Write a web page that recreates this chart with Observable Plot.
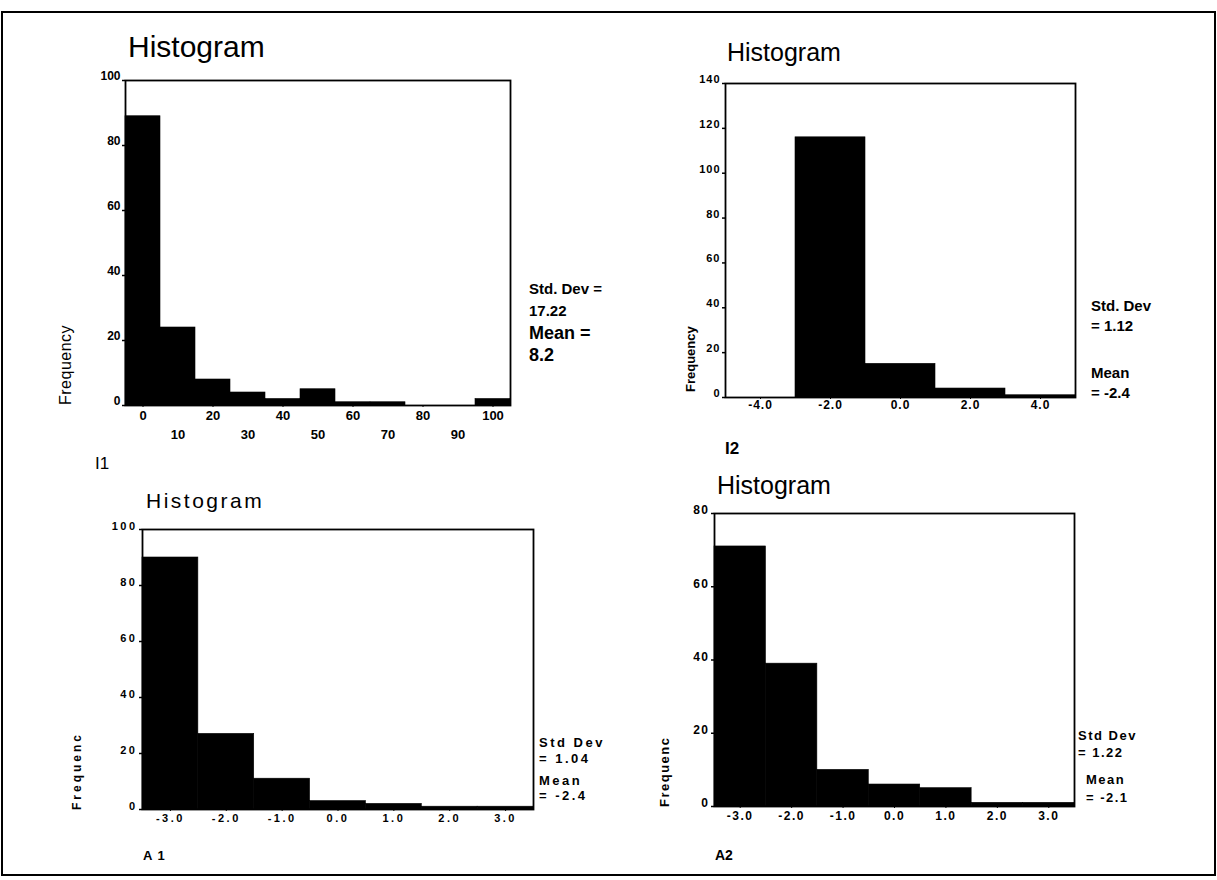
<!DOCTYPE html>
<html><head><meta charset="utf-8">
<script src="https://cdn.jsdelivr.net/npm/d3@7"></script>
<script src="https://cdn.jsdelivr.net/npm/@observablehq/plot@0.6"></script>
<style>
body{margin:0;background:#fff;}
#page{position:relative;width:1217px;height:880px;overflow:hidden;font-family:"Liberation Sans",Arial,sans-serif;color:#000;background:#fff;}
.t{position:absolute;white-space:nowrap;line-height:1;}
.rot{position:absolute;white-space:nowrap;line-height:1;transform:rotate(-90deg);transform-origin:0 0;}
#border{position:absolute;left:1px;top:11px;width:1211px;height:861px;border:2px solid #000;}
</style></head><body><div id="page"><div id="border"></div></div>
<script>
// ---- data ----
const i1Bins = [0, 10, 20, 30, 40, 50, 60, 70, 80, 90, 100];
const i1Counts = [89, 24, 8, 4, 2, 5, 1, 1, 0, 0, 2];
const i1TicksY = [0, 20, 40, 60, 80, 100];
const i1TicksXUpper = [0, 20, 40, 60, 80, 100];
const i1TicksXLower = [10, 30, 50, 70, 90];

const i2Bins = [-4, -2, 0, 2, 4];
const i2Counts = [0, 116, 15, 4, 1];
const i2TicksY = [0, 20, 40, 60, 80, 100, 120, 140];
const i2TickLabels = ["-4.0", "-2.0", "0.0", "2.0", "4.0"];

const a1Bins = [-3, -2, -1, 0, 1, 2, 3];
const a1Counts = [90, 27, 11, 3, 2, 1, 1];
const a1TicksY = [0, 20, 40, 60, 80, 100];

const a2Bins = [-3, -2, -1, 0, 1, 2, 3];
const a2Counts = [71, 39, 10, 6, 5, 1, 1];
const a2TicksY = [0, 20, 40, 60, 80];
const aTickLabels = ["-3.0", "-2.0", "-1.0", "0.0", "1.0", "2.0", "3.0"];

const FONT = '"Liberation Sans", Arial, sans-serif';
const page = document.getElementById("page");

function panel(o) {
  const [fx0, fy0, fx1, fy1] = o.frame;
  const mL = 60, mR = 14, mT = 14, mB = 50;
  const bw = o.binWidth;
  const data = o.bins.map((b, i) => ({x1: b - bw / 2, x2: b + bw / 2, y: o.counts[i]}));
  const chart = Plot.plot({
    width: mL + (fx1 - fx0) + mR,
    height: mT + (fy1 - fy0) + mB,
    marginLeft: mL, marginRight: mR, marginTop: mT, marginBottom: mB,
    x: {domain: [o.bins[0] - bw / 2, o.bins[o.bins.length - 1] + bw / 2], label: null},
    y: {domain: [0, o.yMax], label: null},
    style: {fontFamily: FONT, fontWeight: "bold", background: "transparent", overflow: "visible", letterSpacing: o.ls || "0px"},
    marks: [
      Plot.rectY(data, {x1: "x1", x2: "x2", y: "y", fill: "black", stroke: "black", strokeWidth: 0.6}),
      Plot.frame({stroke: "black", strokeWidth: 1.8}),
      Plot.axisY(o.yTicks, {tickSize: 3, tickFormat: () => "", label: null, strokeWidth: 1.5}),
      Plot.axisY(o.yTicks, {tickSize: 0, tickPadding: o.yPad || 5, dy: o.yDy || -4, fontSize: o.yFont || 12, label: null}),
      ...o.xAxes
    ]
  });
  chart.style.position = "absolute";
  chart.style.left = (fx0 - mL) + "px";
  chart.style.top = (fy0 - mT) + "px";
  page.appendChild(chart);
}

function txt(s, x, cy, size, extra) {
  const d = document.createElement("div");
  d.className = "t";
  d.textContent = s;
  d.style.left = x + "px";
  d.style.top = (cy - 0.49 * size) + "px";
  d.style.fontSize = size + "px";
  Object.assign(d.style, extra || {});
  page.appendChild(d);
}
function rot(s, cx, bottom, size, extra) {
  const d = document.createElement("div");
  d.className = "rot";
  d.textContent = s;
  d.style.left = (cx - 0.49 * size) + "px";
  d.style.top = bottom + "px";
  d.style.fontSize = size + "px";
  Object.assign(d.style, extra || {});
  page.appendChild(d);
}

// ---- panel I1 ----
panel({
  bins: i1Bins, counts: i1Counts, binWidth: 10, yMax: 100, yTicks: i1TicksY,
  frame: [125, 80, 510, 405], yFont: 12,
  xAxes: [
    Plot.axisX(i1TicksXUpper, {tickSize: 2, tickPadding: 3, fontSize: 13, label: null}),
    Plot.axisX(i1TicksXLower, {tickSize: 0, tickPadding: 24, fontSize: 13, label: null})
  ]
});
// ---- panel I2 ----
panel({
  bins: i2Bins, counts: i2Counts, binWidth: 2, yMax: 140, yTicks: i2TicksY,
  frame: [725, 83, 1075, 397], yFont: 11,
  xAxes: [
    Plot.axisX(i2Bins, {tickSize: 2, tickPadding: 1, fontSize: 12, label: null,
      tickFormat: d => i2TickLabels[i2Bins.indexOf(d)]})
  ],
  ls: "1px"
});
// ---- panel A1 ----
panel({
  bins: a1Bins, counts: a1Counts, binWidth: 1, yMax: 100, yTicks: a1TicksY,
  frame: [142, 529, 533, 809], yFont: 11, yDy: -3,
  xAxes: [
    Plot.axisX(a1Bins, {tickSize: 2, tickPadding: 3, fontSize: 11, label: null,
      tickFormat: d => aTickLabels[a1Bins.indexOf(d)]})
  ],
  ls: "2.5px"
});
// ---- panel A2 ----
panel({
  bins: a2Bins, counts: a2Counts, binWidth: 1, yMax: 80, yTicks: a2TicksY,
  frame: [714, 513, 1074, 806], yFont: 12, yDy: -3,
  xAxes: [
    Plot.axisX(a2Bins, {tickSize: 2, tickPadding: 3, fontSize: 12, label: null,
      tickFormat: d => aTickLabels[a2Bins.indexOf(d)]})
  ],
  ls: "1.5px"
});

// ---- texts ----
const B = {fontWeight: "bold"};
// I1
txt("Histogram", 128, 47, 30);
txt("Std. Dev =", 529, 288, 15, B);
txt("17.22", 529, 310, 15, B);
txt("Mean =", 529, 333, 18, B);
txt("8.2", 529, 355, 18, B);
rot("Frequency", 66, 405, 16, {letterSpacing: "0.5px"});
txt("I1", 95, 463, 17);
// I2
txt("Histogram", 727, 52, 25);
txt("Std. Dev", 1091, 305, 15, B);
txt("= 1.12", 1091, 325, 15, B);
txt("Mean", 1091, 372, 15, B);
txt("= -2.4", 1091, 392, 15, B);
rot("Frequency", 690, 392, 13, B);
txt("I2", 725, 448, 17, B);
// A1
txt("Histogram", 146, 500, 21, {letterSpacing: "2.5px"});
txt("Std Dev", 539, 742, 13, {fontWeight: "bold", letterSpacing: "2.5px"});
txt("= 1.04", 539, 758, 13, {fontWeight: "bold", letterSpacing: "2.5px"});
txt("Mean", 539, 780, 13, {fontWeight: "bold", letterSpacing: "2.5px"});
txt("= -2.4", 539, 795, 13, {fontWeight: "bold", letterSpacing: "2.5px"});
rot("Frequenc", 77, 810, 12, {fontWeight: "bold", letterSpacing: "3px"});
txt("A 1", 143, 855, 13, {fontWeight: "bold", letterSpacing: "1px"});
// A2
txt("Histogram", 717, 485, 25);
txt("Std Dev", 1078, 735, 13, {fontWeight: "bold", letterSpacing: "1.5px"});
txt("= 1.22", 1078, 752, 13, {fontWeight: "bold", letterSpacing: "1.5px"});
txt("Mean", 1086, 779, 13, {fontWeight: "bold", letterSpacing: "1.5px"});
txt("= -2.1", 1086, 797, 13, {fontWeight: "bold", letterSpacing: "1.5px"});
rot("Frequenc", 664, 807, 13, {fontWeight: "bold", letterSpacing: "1.5px"});
txt("A2", 715, 855, 14, B);
</script></body></html>
